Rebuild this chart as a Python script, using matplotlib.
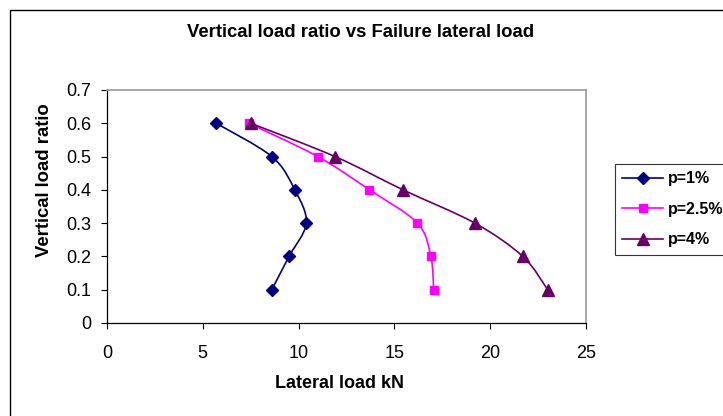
import matplotlib
matplotlib.use("Agg")
import matplotlib.pyplot as plt
from matplotlib.path import Path
from matplotlib.patches import PathPatch, Rectangle
from matplotlib.lines import Line2D
import numpy as np

plt.rcParams['font.family'] = ['Liberation Sans', 'DejaVu Sans']

# datos
ratio = [0.6, 0.5, 0.4, 0.3, 0.2, 0.1]
carga_p1 = [5.7, 8.6, 9.8, 10.4, 9.5, 8.6]
carga_p25 = [7.4, 11.0, 13.7, 16.2, 16.9, 17.05]
carga_p4 = [7.5, 11.9, 15.45, 19.2, 21.7, 23.0]

series = [
    ("p=1%", carga_p1, "#000080", "D", 6),
    ("p=2.5%", carga_p25, "#FF00FF", "s", 6),
    ("p=4%", carga_p4, "#660066", "^", 8),
]


def curva_suave(ax, xs, ys, color):
    # curva tipo Excel (bezier por Catmull-Rom) en coordenadas de pantalla
    pts = ax.transData.transform(np.column_stack([xs, ys]))
    n = len(pts)
    verts = [pts[0]]
    codes = [Path.MOVETO]
    for i in range(n - 1):
        p0 = pts[i - 1] if i > 0 else pts[i]
        p1 = pts[i]
        p2 = pts[i + 1]
        p3 = pts[i + 2] if i + 2 < n else pts[i + 1]
        c1 = p1 + (p2 - p0) / 6.0
        c2 = p2 - (p3 - p1) / 6.0
        verts += [c1, c2, p2]
        codes += [Path.CURVE4] * 3
    patch = PathPatch(Path(verts, codes), facecolor="none", edgecolor=color,
                      lw=1.2, transform=None, zorder=2)
    ax.add_artist(patch)


fig = plt.figure(figsize=(7.23, 4.16), dpi=100)
ax = fig.add_axes([0.148, 0.2236, 0.6625, 0.5601])

ax.set_xlim(0, 25)
ax.set_ylim(0, 0.7)
ax.set_xticks(range(0, 26, 5))
ax.set_yticks(np.arange(0, 0.71, 0.1))
ax.set_yticklabels(["0", "0.1", "0.2", "0.3", "0.4", "0.5", "0.6", "0.7"])
ax.tick_params(axis="both", direction="out", length=4.5, width=0.8,
               labelsize=13, color="black")
ax.tick_params(axis="x", pad=11)
ax.tick_params(axis="y", pad=7)
for lado in ["top", "right"]:
    ax.spines[lado].set_color("#999999")
    ax.spines[lado].set_linewidth(1.2)
for lado in ["left", "bottom"]:
    ax.spines[lado].set_color("black")
    ax.spines[lado].set_linewidth(0.9)

fig.canvas.draw()
handles = []
for nombre, carga, color, marca, tam in series:
    curva_suave(ax, carga, ratio, color)
    ax.plot(carga, ratio, linestyle="none", marker=marca, markersize=tam,
            color=color, zorder=3)
    handles.append(Line2D([], [], color=color, lw=1.2, marker=marca,
                          markersize=tam, label=nombre))

fig.text(0.4993, 0.921, "Vertical load ratio vs Failure lateral load",
         ha="center", va="center", fontsize=13.3, fontweight="bold")
fig.text(0.47, 0.078, "Lateral load kN", ha="center", va="center",
         fontsize=13, fontweight="bold")
fig.text(0.061, 0.567, "Vertical load ratio", ha="center", va="center",
         rotation=90, fontsize=13.3, fontweight="bold")

leg = fig.legend(handles=handles, loc="upper left",
                 bbox_to_anchor=(0.8506, 0.606), frameon=True, fancybox=False,
                 prop={"size": 11.5, "weight": "bold"}, handlelength=2.55,
                 handletextpad=0.3, borderpad=0.45, labelspacing=0.98,
                 borderaxespad=0)
leg.get_frame().set_edgecolor("black")
leg.get_frame().set_linewidth(0.8)

# marco exterior del grafico
fig.add_artist(Rectangle((10 / 723, -0.1), 1.2, 1 - 10 / 416 + 0.1,
                         transform=fig.transFigure, facecolor="none",
                         edgecolor="black", lw=1.0))

fig.savefig("out.png", dpi=100)
